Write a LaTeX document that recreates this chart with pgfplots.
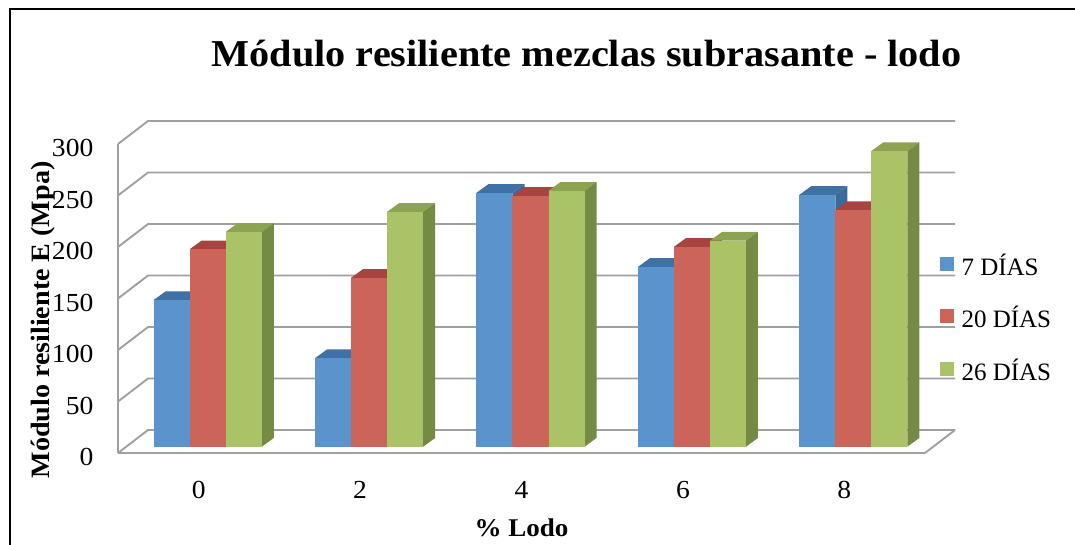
\documentclass[border=0pt]{standalone}
\usepackage{pgfplots}
\pgfplotsset{compat=1.18}
\usepackage{fontspec}
\setmainfont[FakeStretch=1.06]{Liberation Serif}
\newfontfamily\legf{Liberation Serif}
\definecolor{bF}{HTML}{5B93CD}\definecolor{bT}{HTML}{3F70A6}\definecolor{bS}{HTML}{3A6A9C}
\definecolor{rF}{HTML}{CC6459}\definecolor{rT}{HTML}{A8443F}\definecolor{rS}{HTML}{9A3F3B}
\definecolor{gF}{HTML}{A9C366}\definecolor{gT}{HTML}{8CA352}\definecolor{gS}{HTML}{748B45}
\definecolor{gridc}{HTML}{A0A0A0}
% conversion: 1 category = 161.25 px; 1 unit of value = 1.03 px
\newcommand{\tb}[4]{% category, position in the group, value, colour prefix
  \pgfmathsetmacro{\xa}{#1+(9.0+(#2-1.5)*36)/161.25}
  \pgfmathsetmacro{\xb}{\xa+36/161.25}
  \pgfmathsetmacro{\xc}{\xb+12/161.25}
  \pgfmathsetmacro{\xd}{\xa+12/161.25}
  \pgfmathsetmacro{\ya}{6.1}
  \pgfmathsetmacro{\yb}{6.1+#3}
  \pgfmathsetmacro{\yc}{\yb+8.5}
  \pgfmathsetmacro{\yd}{\ya+8.5}
  \addplot[fill=#4T,draw=none] coordinates {(\xa,\yb)(\xb,\yb)(\xc,\yc)(\xd,\yc)} --cycle;
  \addplot[fill=#4S,draw=none] coordinates {(\xb,\ya)(\xc,\yd)(\xc,\yc)(\xb,\yb)} --cycle;
  \addplot[fill=#4F,draw=none] coordinates {(\xa,\ya)(\xb,\ya)(\xb,\yb)(\xa,\yb)} --cycle;
}
\newcommand{\wall}[1]{%
  \addplot[gridc,line width=1.9pt] coordinates {(-0.5,#1)(-0.3140,#1+22.3)(4.6860,#1+22.3)};
}
\begin{document}
\begin{tikzpicture}[x=1pt,y=1pt]
\useasboundingbox (0,0) rectangle (1075,545);
\draw[black,line width=1.2pt] (10,0) -- (10,536) -- (1075,536);
\begin{axis}[
  at={(118pt,92pt)},anchor=south west,
  scale only axis,width=807pt,height=309pt,
  xmin=-0.5,xmax=4.5,ymin=0,ymax=300,
  clip=false,
  axis line style={gridc,line width=1.9pt},
  axis x line=bottom,axis y line=left,
  x axis line style={-},y axis line style={-},
  tick style={draw=none},
  xtick={0,1,2,3,4},xticklabels={0,2,4,6,8},
  ytick={0,50,100,150,200,250,300},
  /pgf/number format/assume math mode=true,
  tick label style={font=\fontsize{26}{28}\selectfont,text=black},
  xticklabel style={yshift=-23pt},
  yticklabel style={xshift=-19pt,yshift=-4pt},
  xlabel={\textbf{\% Lodo}},
  xlabel style={font=\fontsize{25.5}{27}\selectfont,at={(axis description cs:0.5,0)},anchor=center,yshift=-75pt,xshift=0pt},
  ylabel={\textbf{Módulo resiliente E (Mpa)}},
  ylabel style={font=\fontsize{26.5}{28}\selectfont,at={(axis description cs:0,0.5)},rotate=0,anchor=center,xshift=-21.5pt,yshift=75pt},
  title={\textbf{Módulo resiliente mezclas subrasante - lodo}},
  title style={font=\fontsize{38}{42}\selectfont,at={(axis description cs:0.5,1)},anchor=center,yshift=84pt,xshift=65pt},
]
\wall{0}\wall{50}\wall{100}\wall{150}\wall{200}\wall{250}\wall{300}
\addplot[gridc,line width=1.9pt] coordinates {(4.5,0)(4.6860,22.3)};
\tb{0}{0}{142.4}{b}\tb{0}{1}{191.7}{r}\tb{0}{2}{208.5}{g}
\tb{1}{0}{86}{b}\tb{1}{1}{164}{r}\tb{1}{2}{228}{g}
\tb{2}{0}{246.5}{b}\tb{2}{1}{243.5}{r}\tb{2}{2}{248.5}{g}
\tb{3}{0}{174.5}{b}\tb{3}{1}{194}{r}\tb{3}{2}{200}{g}
\tb{4}{0}{244.5}{b}\tb{4}{1}{229.8}{r}\tb{4}{2}{287}{g}
\end{axis}
\fill[bF] (940,274) rectangle (954,288);
\fill[rF] (940,221.5) rectangle (954,235.5);
\fill[gF] (940,169) rectangle (954,183);
\node[anchor=west,font=\legf\fontsize{25}{27}\selectfont] at (958,280) {7 DÍAS};
\node[anchor=west,font=\legf\fontsize{25}{27}\selectfont] at (958,228) {20 DÍAS};
\node[anchor=west,font=\legf\fontsize{25}{27}\selectfont] at (958,175) {26 DÍAS};
\end{tikzpicture}
\end{document}
